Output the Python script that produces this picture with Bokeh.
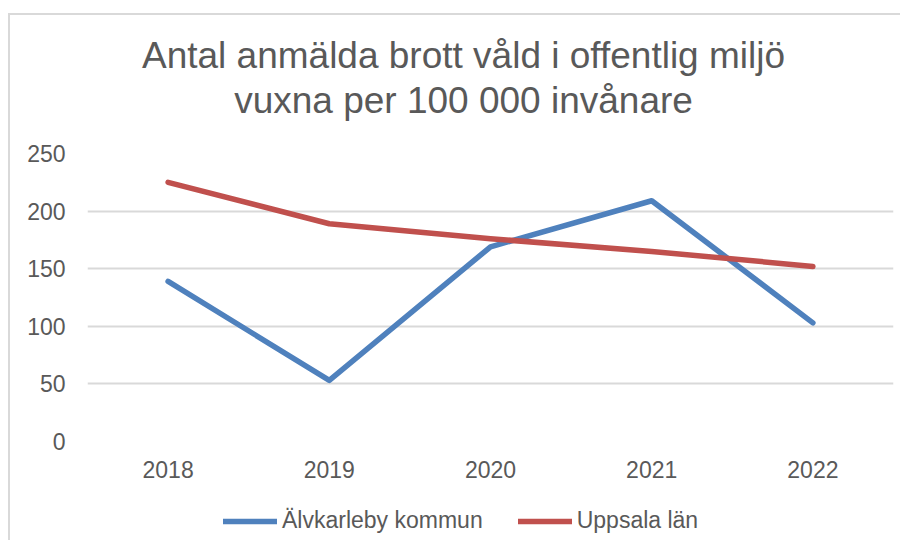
from bokeh.plotting import figure
from bokeh.layouts import column
from bokeh.models import Legend, LegendItem, FixedTicker, Label, Range1d
from bokeh.embed import file_html
from bokeh.resources import INLINE

years = ["2018", "2019", "2020", "2021", "2022"]
alvkarleby = [139, 53, 169, 209, 103]
uppsala = [225, 189, 176, 165, 152]
y_ticks = [0, 50, 100, 150, 200, 250]
series_names = ["Älvkarleby kommun", "Uppsala län"]
title_lines = ["Antal anmälda brott våld i offentlig miljö", "vuxna per 100 000 invånare"]

FONT = "Liberation Sans"
TXT = "#595959"
GRID = "#d9d9d9"
BLUE = "#4F81BD"
RED = "#C0504D"
W = 900
FL, FR = 87, 893          # frame left/right (pixels), shared by all strips in the column


def blank(height, yr):
    f = figure(width=W, height=height, x_range=Range1d(FL, FR), y_range=yr,
               x_axis_type=None, y_axis_type=None, output_backend="svg",
               toolbar_location=None, min_border_left=FL, min_border_right=W - FR,
               min_border_top=0, min_border_bottom=0)
    f.title = None
    f.grid.visible = False
    f.outline_line_color = None
    f.border_fill_alpha = 0
    f.background_fill_alpha = 0
    return f


# --- title strip (pixel-space ranges, y grows downward) ---
HEAD_H = 133
head = blank(HEAD_H, Range1d(HEAD_H, 0))
for txt, base in zip(title_lines, (68, 113)):
    head.add_layout(Label(x=463, y=base - 13, text=txt, text_align="center",
                          text_baseline="middle", text_font=FONT,
                          text_font_size="37px", text_color=TXT))

# --- main chart ---
p = figure(width=W, height=500 - HEAD_H, x_range=years, y_range=(0, 250),
           output_backend="svg", toolbar_location=None,
           min_border_left=FL, min_border_right=W - FR, min_border_top=153 - HEAD_H,
           min_border_bottom=59)
p.title = None
p.border_fill_alpha = 0
p.background_fill_color = "white"
p.outline_line_color = None

p.line(years, alvkarleby, line_color=BLUE, line_width=5.5, line_cap="round", line_join="round")
p.line(years, uppsala, line_color=RED, line_width=5.5, line_cap="round", line_join="round")

p.xgrid.grid_line_color = None
p.ygrid.grid_line_color = GRID
p.ygrid.grid_line_width = 1.8
p.yaxis.ticker = FixedTicker(ticks=y_ticks)
for ax in (p.xaxis, p.yaxis):
    ax.axis_line_color = None
    ax.major_tick_line_color = None
    ax.minor_tick_line_color = None
    ax.major_label_text_font = FONT
    ax.major_label_text_font_size = "23px"
    ax.major_label_text_color = TXT
p.yaxis.major_label_standoff = 16
p.xaxis.major_label_standoff = 13

# --- legend strip ---
nan = float("nan")
leg = blank(40, Range1d(0, 1))
k1 = leg.line(x=[nan], y=[nan], line_color=BLUE, line_width=5.5, line_cap="round")
k2 = leg.line(x=[nan], y=[nan], line_color=RED, line_width=5.5, line_cap="round")
legend = Legend(items=[LegendItem(label=series_names[0], renderers=[k1]),
                       LegendItem(label=series_names[1], renderers=[k2])],
                orientation="horizontal", location=(223 - FL, 6),
                glyph_width=54, glyph_height=20, label_standoff=5, spacing=35,
                padding=0, margin=0, border_line_color=None, background_fill_alpha=0,
                label_text_font=FONT, label_text_font_size="23px", label_text_color=TXT)
leg.add_layout(legend, "center")

layout = column(head, p, leg, spacing=0)
layout.styles = {"box-shadow": "inset 0 13px 0 0 #ffffff, inset 8px 0 0 0 #ffffff, "
                               "inset 0 15px 0 0 #d9d9d9, inset 10px 0 0 0 #d9d9d9"}

open("out.html", "w").write(file_html(layout, INLINE))
